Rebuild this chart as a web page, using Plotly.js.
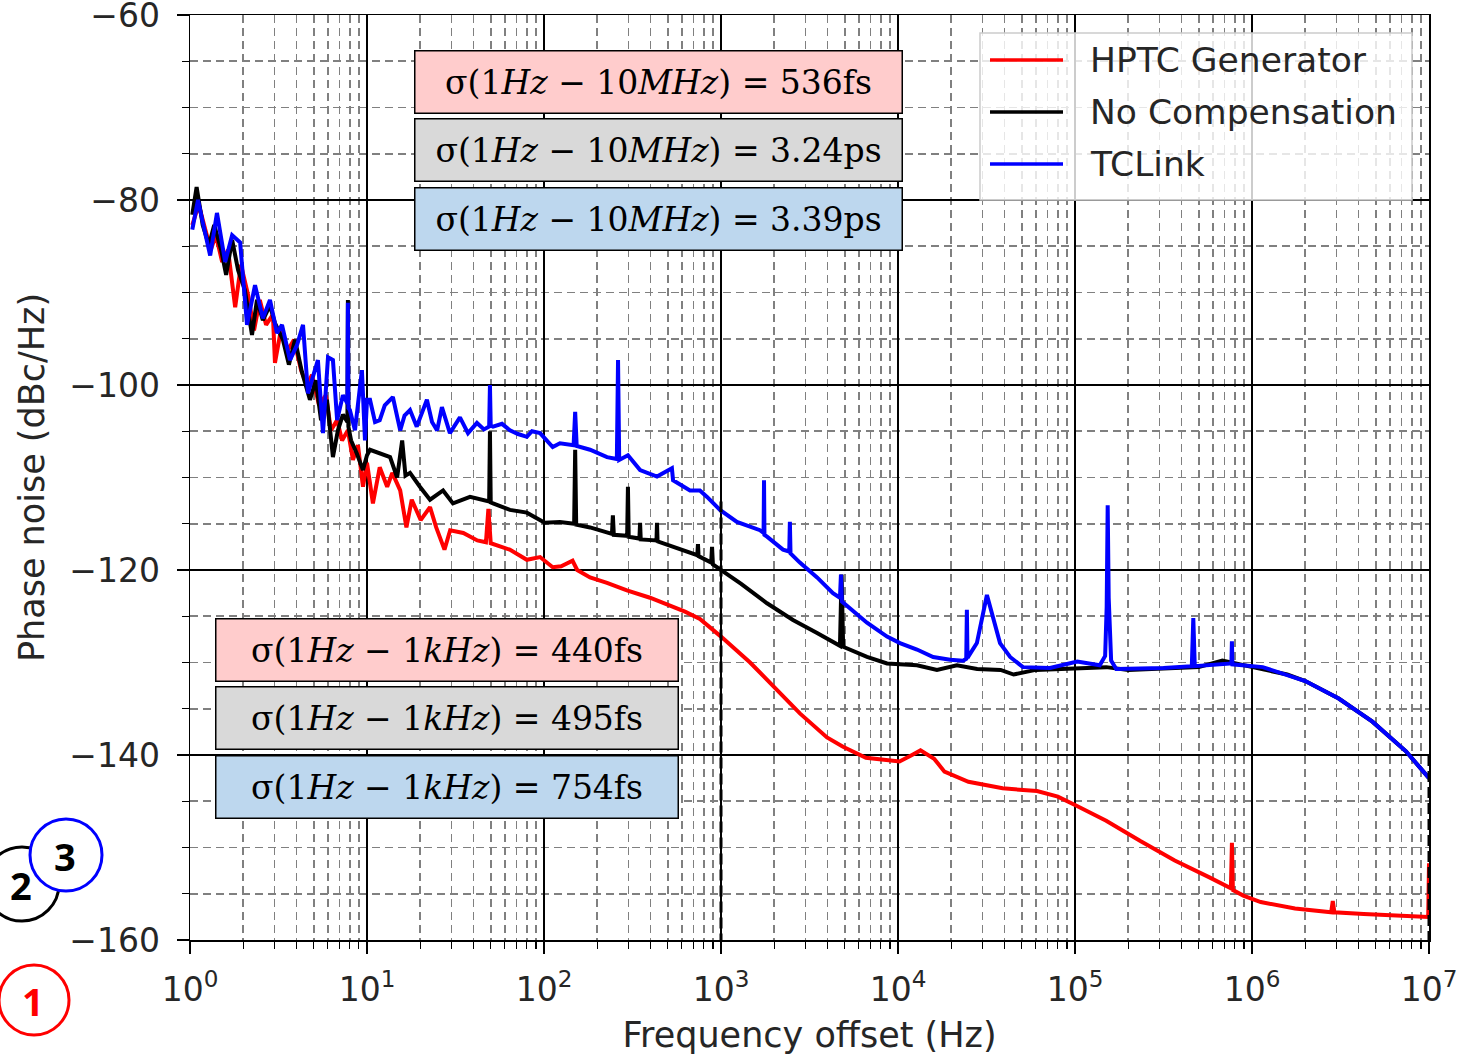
<!DOCTYPE html>
<html><head><meta charset="utf-8">
<script src="https://cdn.plot.ly/plotly-3.0.1.min.js"></script>
<style>html,body{margin:0;padding:0;background:#fff}#chart{width:1473px;height:1059px}</style>
</head><body><div id="chart"></div><script>
// ---------- data ----------
const hptcFreq=[1.03,1.12,1.22,1.31,1.4,1.52,1.64,1.8,1.94,2.13,2.3,2.48,2.69,2.94,3.02,3.26,3.58,3.87,4.24,4.58,4.89,5.36,5.86,6.26,6.78,7.23,7.8,8.33,8.89,9.49,10,10.8,11.8,13,13.9,15.4,16.7,17.9,20.1,22.7,24.6,27.4,29.5,35,42,47,48.5,50,64,80,95,112,125,145,154,182,227,294,397,500,626,760,870,1000,1460,2070,2790,3970,4890,6590,8000,10200,12000,13400,16000,18300,25000,39000,61000,80000,100000,150000,234000,366000,571000,760000,770000,780000,893000,1120000,1750000,2800000,2860000,2920000,4280000,6680000,9100000,9900000,10000000];
const hptcDb=[-82.7,-80.5,-83.2,-85.4,-83.8,-86.7,-85.4,-91.6,-87,-90.3,-94.1,-90.8,-93.5,-92.4,-97.6,-94.1,-96.2,-95.1,-98.4,-100,-98.9,-102.2,-101.1,-104.9,-103.8,-106,-104.9,-108.1,-106.5,-111,-108.4,-112.8,-108.9,-111,-109.5,-111.4,-115.4,-112.4,-114.6,-113.2,-115.4,-117.8,-115.7,-116,-116.8,-117,-113.4,-117.1,-117.8,-118.9,-118.6,-119.7,-119.6,-119,-120,-120.8,-121.4,-122.2,-123,-123.8,-124.5,-125.3,-126.2,-127.2,-130,-133,-135.5,-138.1,-139.1,-140.3,-140.5,-140.7,-140,-139.5,-140.4,-141.8,-142.9,-143.6,-143.9,-144.5,-145.4,-147.1,-149.3,-151.4,-153.2,-154.4,-149.5,-154.6,-155.2,-155.9,-156.6,-157,-155.8,-157,-157.2,-157.4,-157.5,-157.5,-151.7];

const noCompFreq=[1.03,1.09,1.18,1.28,1.37,1.5,1.6,1.73,1.87,2.04,2.24,2.39,2.58,2.83,3.02,3.35,3.62,3.92,4.29,4.76,5.14,5.5,5.94,6.42,6.85,7.31,7.75,7.8,7.85,8.13,8.76,9.49,10,10.4,11.8,13.5,14.8,15.8,16.5,17.5,19.9,22.7,26.9,30.6,38.2,45.2,49,49.5,50,51.5,64.2,80,101,123,148,150,152,182,227,242,245,248,295,298,301,346,349,352,432,435,438,536,668,735,741,747,880,890,900,1000,1300,1820,2550,3490,4700,4800,4900,6680,8670,12800,16600,21500,28000,38000,45000,60000,100000,150000,200000,300000,500000,680000,1000000,1580000,2000000,3090000,4790000,7410000,10000000];
const noCompDb=[-81.6,-78.6,-82.7,-84.9,-82.7,-85.4,-88.1,-84.3,-87.6,-89.7,-94.6,-90.8,-93,-91.4,-93.3,-95.1,-97.8,-95.1,-98.6,-101.6,-99.5,-103.8,-101.6,-107.8,-104.9,-103.2,-104,-90.8,-104.5,-106,-107.4,-109.2,-107.6,-107,-107.4,-107.8,-110,-106,-109.8,-109.5,-111,-112.4,-111.4,-112.8,-112.1,-112.4,-112.6,-105,-112.7,-112.8,-113.5,-113.8,-114.9,-114.8,-115,-107,-115.1,-115.4,-116,-116.1,-114.1,-116.2,-116.3,-111,-116.4,-116.6,-114.9,-116.7,-116.8,-114.9,-116.9,-117.5,-118.2,-118.4,-117.2,-118.5,-119.2,-117.5,-119.4,-120,-121.5,-123.6,-125.4,-126.8,-128.2,-120.5,-128.3,-129.4,-130.1,-130.3,-130.8,-130.3,-130.7,-130.8,-131.3,-130.8,-130.6,-130.5,-130.8,-130.7,-130.5,-129.8,-130.5,-131.3,-132,-133.9,-136.4,-139.6,-142.5];

const tclinkFreq=[1.03,1.11,1.18,1.3,1.42,1.58,1.73,1.92,2.1,2.33,2.58,2.83,3.1,3.31,3.67,4.02,4.35,4.64,4.95,5.28,5.64,6.02,6.42,6.78,7.31,7.75,7.8,7.85,8.0,8.55,9.36,9.74,10,10.4,11.1,11.8,12.6,14,15.4,16.3,17.5,19.1,21.8,23.3,24.9,26.5,29.4,33.5,37.2,41.8,45.8,49,49.5,50,51.5,57.9,64.2,71.3,80,85.5,95,112,123,147,150,153,182,227,258,262,266,298,349,435,528,536,668,760,834,987,1230,1660,1740,1750,1760,1820,2240,2430,2450,2470,2790,3490,4290,4700,4760,4820,6680,8670,10260,12800,15800,19700,23300,24300,24500,24700,27900,31800,34400,37700,43000,50800,72200,103000,138000,148000,151000,153000,155000,160000,171000,234000,316000,457000,466000,475000,684000,765000,770000,775000,1150000,1580000,2000000,3090000,4790000,7410000,10000000];
const tclinkDb=[-83.2,-80,-82.4,-86,-81.4,-86.7,-83.8,-84.6,-93.5,-89.2,-92.8,-90.8,-94.4,-93.5,-97.3,-95.7,-93.5,-100.9,-99.1,-97.3,-105.2,-97,-97.3,-103.8,-101.1,-102,-91.1,-102.5,-102.7,-104.9,-98.4,-106,-101.6,-101.6,-104,-103.8,-102.2,-101.3,-104.9,-103.3,-102.7,-104.5,-101.6,-104,-104.9,-102.4,-105.2,-103.5,-105.2,-104.1,-104.8,-104.5,-100,-104.4,-104.5,-104.2,-104.9,-105.3,-105.6,-105,-105.2,-106.7,-106.3,-106.5,-102.9,-106.6,-107,-107.8,-108,-97.3,-108.1,-107.6,-109.2,-109.9,-109,-110.3,-111.4,-111.4,-112.1,-113.5,-114.8,-115.7,-116,-110.3,-116.2,-116.4,-117.8,-118,-114.8,-118.2,-119.2,-120.8,-122.5,-123,-120.5,-123.4,-125.7,-127.2,-127.9,-128.6,-129.4,-129.7,-129.8,-129.6,-124.3,-129.5,-127.9,-122.7,-125.1,-127.9,-129.4,-130.5,-130.6,-129.9,-130.3,-129.3,-124,-113,-123,-129.8,-130.7,-130.7,-130.6,-130.4,-125.2,-130.4,-130.2,-130.1,-127.7,-130.2,-130.5,-131.3,-132,-133.9,-136.4,-139.6,-142.5];

const seriesNames=['HPTC Generator','No Compensation','TCLink'];
const seriesColors=['#ff0000','#000000','#0000ff'];

// integration limit markers (dashed black verticals)
const limitFreq=[1000,10000000];
const limitTopDb=[-112.6,-140];
const limitBottomDb=-160;

const xTickVals=[1,10,100,1000,10000,100000,1000000,10000000];
const xTickText=['10<sup>0</sup>','10<sup>1</sup>','10<sup>2</sup>','10<sup>3</sup>','10<sup>4</sup>','10<sup>5</sup>','10<sup>6</sup>','10<sup>7</sup>'];
const yTickVals=[-160,-140,-120,-100,-80,-60];

const wideLabels=['σ(1<i>Hz</i> − 10<i>MHz</i>) = 536fs','σ(1<i>Hz</i> − 10<i>MHz</i>) = 3.24ps','σ(1<i>Hz</i> − 10<i>MHz</i>) = 3.39ps'];
const narrowLabels=['σ(1<i>Hz</i> − 1<i>kHz</i>) = 440fs','σ(1<i>Hz</i> − 1<i>kHz</i>) = 495fs','σ(1<i>Hz</i> − 1<i>kHz</i>) = 754fs'];
const boxFills=['#ffcccc','#d9d9d9','#bdd7ee'];
const circleLabels=['1','2','3'];

// ---------- layout helpers (pixel -> paper) ----------
const L=190,R=1429,T=15,B=940;
const px=v=>(v-L)/(R-L);
const py=v=>(B-v)/(B-T);

const traces=[
 {x:hptcFreq,y:hptcDb,name:seriesNames[0],line:{color:seriesColors[0],width:4}},
 {x:noCompFreq,y:noCompDb,name:seriesNames[1],line:{color:seriesColors[1],width:4}},
 {x:tclinkFreq,y:tclinkDb,name:seriesNames[2],line:{color:seriesColors[2],width:4}}
].map(t=>Object.assign({type:'scatter',mode:'lines',showlegend:false,hoverinfo:'skip'},t));
limitFreq.forEach((f,i)=>traces.push({type:'scatter',mode:'lines',x:[f,f],y:[limitTopDb[i],limitBottomDb],
  line:{color:'#000',width:3,dash:'11px,5px'},showlegend:false,hoverinfo:'skip'}));

const minorX=[];
for(let d=0;d<7;d++){for(let m=2;m<=9;m++){minorX.push(m*Math.pow(10,d));}}

const shapes=[], annotations=[];
// annotation boxes
const topBoxY=[81.5,150.5,219], botBoxY=[649.5,718,787];
const boxFont={family:'DejaVu Serif',size:33,color:'#000'};
wideLabels.forEach((t,i)=>annotations.push({xref:'paper',yref:'paper',x:px(658.5),y:py(topBoxY[i]),xanchor:'center',yanchor:'middle',text:t,showarrow:false,
  font:boxFont,bgcolor:boxFills[i],bordercolor:'#000',borderwidth:1.5,borderpad:0,width:486,height:61,align:'center',valign:'middle'}));
narrowLabels.forEach((t,i)=>annotations.push({xref:'paper',yref:'paper',x:px(447),y:py(botBoxY[i]),xanchor:'center',yanchor:'middle',text:t,showarrow:false,
  font:boxFont,bgcolor:boxFills[i],bordercolor:'#000',borderwidth:1.5,borderpad:0,width:461,height:61,align:'center',valign:'middle'}));

// custom legend
shapes.push({type:'rect',xref:'paper',yref:'paper',x0:px(980),x1:px(1412),y0:py(200),y1:py(33),fillcolor:'rgba(255,255,255,0.8)',line:{color:'#cccccc',width:1.5},layer:'above'});
const legY=[60,112,164];
seriesNames.forEach((n,i)=>{
  shapes.push({type:'line',xref:'paper',yref:'paper',x0:px(990),x1:px(1063),y0:py(legY[i]),y1:py(legY[i]),line:{color:seriesColors[i],width:3.5},layer:'above'});
  annotations.push({xref:'paper',yref:'paper',x:px(1088),y:py(legY[i]),xanchor:'left',yanchor:'middle',text:n,showarrow:false,font:{family:'DejaVu Sans',size:34.5,color:'#262626'}});
});

// numbered circles
const circ=[{cx:34,cy:1000,r:35,c:'#ff0000',tc:'#ff0000'},{cx:22,cy:884,r:37,c:'#000000',tc:'#000000'},{cx:66,cy:855,r:36,c:'#0000ff',tc:'#000000'}];
circ.forEach((c,i)=>{
  shapes.push({type:'circle',xref:'paper',yref:'paper',x0:px(c.cx-c.r),x1:px(c.cx+c.r),y0:py(c.cy+c.r),y1:py(c.cy-c.r),fillcolor:'#ffffff',line:{color:c.c,width:3},layer:'above'});
  annotations.push({xref:'paper',yref:'paper',x:px(c.cx-1),y:py(c.cy+1),text:'<b>'+circleLabels[i]+'</b>',showarrow:false,font:{family:'Open Sans',size:38,color:c.tc},xanchor:'center',yanchor:'middle'});
});

const gridDash='8px,5px';
const layout={
 width:1473,height:1059,margin:{l:L,r:1473-R,t:T,b:1059-B},
 paper_bgcolor:'#fff',plot_bgcolor:'#fff',
 font:{family:'DejaVu Sans',size:33,color:'#262626'},
 showlegend:false,
 xaxis:{type:'log',range:[0,7],tickmode:'array',tickvals:xTickVals,ticktext:xTickText,
   ticks:'outside',ticklen:12,tickwidth:1.5,tickcolor:'#000',ticklabelstandoff:8,ticklabeloverflow:'allow',
   showline:true,mirror:true,linecolor:'#000',linewidth:1.5,
   showgrid:true,gridcolor:'#000',gridwidth:1.6,zeroline:false,
   minor:{tickmode:'array',tickvals:minorX,ticks:'outside',ticklen:7,tickwidth:1.2,tickcolor:'#000',showgrid:true,gridcolor:'#808080',gridwidth:1.6,griddash:gridDash},
   title:{text:'Frequency offset (Hz)',font:{size:35,color:'#262626'},standoff:14}},
 yaxis:{range:[-160,-60],tickmode:'array',tickvals:yTickVals,
   ticks:'outside',ticklen:12,tickwidth:1.5,tickcolor:'#000',ticklabelstandoff:10,ticklabeloverflow:'allow',
   showline:true,mirror:true,linecolor:'#000',linewidth:1.5,
   showgrid:true,gridcolor:'#000',gridwidth:1.6,zeroline:false,
   minor:{dtick:5,ticks:'outside',ticklen:7,tickwidth:1.2,tickcolor:'#000',showgrid:true,gridcolor:'#808080',gridwidth:1.6,griddash:gridDash},
   title:{text:'Phase noise (dBc/Hz)',font:{size:35,color:'#262626'},standoff:14}},
 shapes:shapes,annotations:annotations
};
Plotly.newPlot('chart',traces,layout,{displayModeBar:false,staticPlot:true});
</script></body></html>
